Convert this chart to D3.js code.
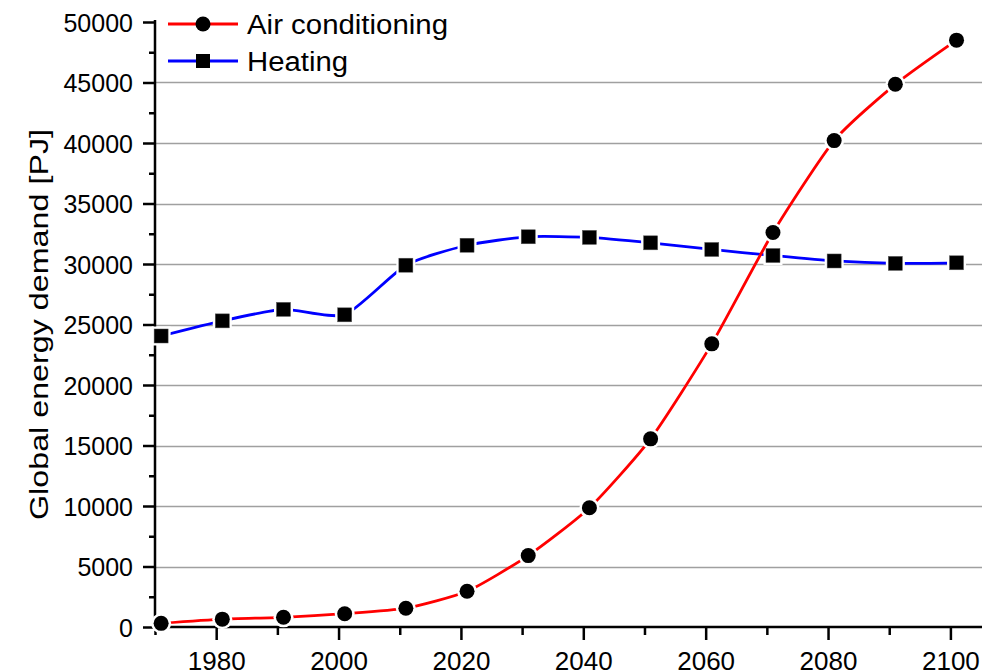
<!DOCTYPE html>
<html>
<head>
<meta charset="utf-8">
<script src="https://cdn.jsdelivr.net/npm/d3@7"></script>
<style>
  body { margin: 0; background: #fff; }
  text { font-family: "Liberation Sans", Arial, sans-serif; fill: #000; }
</style>
</head>
<body>
<svg id="chart" width="987" height="672"></svg>
<script>
// data
var years = [1971, 1981, 1991, 2001, 2011, 2021, 2031, 2041, 2051, 2061, 2071, 2081, 2091, 2101];
var airCond = [300, 650, 800, 1100, 1550, 2950, 5900, 9850, 15550, 23400, 32600, 40200, 44850, 48500];
var heating = [24050, 25300, 26250, 25800, 29900, 31550, 32250, 32200, 31750, 31200, 30700, 30250, 30050, 30100];
var yTicks = [0, 5000, 10000, 15000, 20000, 25000, 30000, 35000, 40000, 45000, 50000];
var xTicks = [1980, 2000, 2020, 2040, 2060, 2080, 2100];

var svg = d3.select("#chart");

// plot box (note: "top" is reserved on window, so use plotTop)
var plotLeft = 155, plotRight = 981, plotTop = 22, plotBottom = 627;

var x = d3.scaleLinear().domain([1970, 2105]).range([plotLeft, plotRight]);
var y = d3.scaleLinear().domain([0, 50000]).range([plotBottom, plotTop]);

//grid lines (not at 0 and 50000)
svg.append("g")
	.selectAll("line")
	.data(yTicks.filter(function (d) { return d > 0 && d < 50000; }))
	.enter()
	.append("line")
	.attr("x1", plotLeft)
	.attr("x2", plotRight + 1)
	.attr("y1", function (d) { return Math.round(y(d)) + 0.5; })
	.attr("y2", function (d) { return Math.round(y(d)) + 0.5; })
	.attr("stroke", "#a0a0a0")
	.attr("stroke-width", 1.5);

//minor ticks
var yMinor = d3.range(2500, 50000, 5000);
var xMinor = d3.range(1970, 2105, 20);

var yMinorAxis = svg.append("g")
	.attr("transform", "translate(" + plotLeft + ",0)")
	.call(d3.axisLeft(y).tickValues(yMinor).tickSize(6).tickFormat(""));
var xMinorAxis = svg.append("g")
	.attr("transform", "translate(0," + plotBottom + ")")
	.call(d3.axisBottom(x).tickValues(xMinor).tickSize(8).tickFormat(""));

//major axes
var yAxis = svg.append("g")
	.attr("transform", "translate(" + plotLeft + ",0)")
	.call(d3.axisLeft(y).tickValues(yTicks).tickSize(12).tickPadding(10).tickFormat(d3.format("d")));
var xAxis = svg.append("g")
	.attr("transform", "translate(0," + plotBottom + ")")
	.call(d3.axisBottom(x).tickValues(xTicks).tickSize(13).tickPadding(12).tickFormat(d3.format("d")));

[yMinorAxis, xMinorAxis, yAxis, xAxis].forEach(function (a) {
	a.select(".domain").remove();
	a.selectAll(".tick line").attr("stroke", "#000").attr("stroke-width", 2.5);
	a.attr("font-family", null).attr("font-size", null);
});
yAxis.selectAll("text").attr("font-size", 25).attr("fill", "#000").attr("dy", "0.36em");
xAxis.selectAll("text").attr("font-size", 26).attr("fill", "#000");

//axis lines
svg.append("line")
	.attr("x1", plotLeft).attr("x2", plotLeft)
	.attr("y1", plotTop - 2).attr("y2", plotBottom + 1)
	.attr("stroke", "#000").attr("stroke-width", 2.5);
svg.append("line")
	.attr("x1", plotLeft - 1).attr("x2", plotRight + 1)
	.attr("y1", plotBottom).attr("y2", plotBottom)
	.attr("stroke", "#000").attr("stroke-width", 2.5);

//y label
svg.append("text")
	.attr("transform", "translate(48," + (129 + 391 / 2) + ") rotate(-90)")
	.attr("text-anchor", "middle")
	.attr("font-size", 26)
	.attr("textLength", 391)
	.attr("lengthAdjust", "spacingAndGlyphs")
	.text("Global energy demand [PJ]");

var line = d3.line()
	.x(function (d) { return x(d.year); })
	.y(function (d) { return y(d.value); })
	.curve(d3.curveCardinal.tension(0.4));

var series = [
	{name: "Air conditioning", color: "#ff0000", shape: "circle", values: airCond},
	{name: "Heating", color: "#0000ff", shape: "square", values: heating}
];

function drawMarker(g, shape, cx, cy) {
	if (shape == "circle") {
		g.append("circle").attr("cx", cx).attr("cy", cy).attr("r", 10).attr("fill", "#fff");
		g.append("circle").attr("cx", cx).attr("cy", cy).attr("r", 7.5).attr("fill", "#000");
	} else {
		g.append("rect").attr("x", cx - 9.5).attr("y", cy - 9.5).attr("width", 19).attr("height", 19).attr("fill", "#fff");
		g.append("rect").attr("x", cx - 7).attr("y", cy - 7).attr("width", 14).attr("height", 14)
			.attr("fill", "#000").attr("stroke", "#555").attr("stroke-width", 0.5);
	}
}

// heating first, air conditioning on top
series.slice().reverse().forEach(function (s) {
	var pts = years.map(function (yr, i) { return {year: yr, value: s.values[i]}; });
	var g = svg.append("g");
	g.append("path")
		.datum(pts)
		.attr("d", line)
		.attr("fill", "none")
		.attr("stroke", s.color)
		.attr("stroke-width", 2.8);
	pts.forEach(function (p) {
		drawMarker(g, s.shape, x(p.year), y(p.value));
	});
});

//legend
var legendY = [24, 61];
series.forEach(function (s, i) {
	var g = svg.append("g");
	g.append("line")
		.attr("x1", 168).attr("x2", 238)
		.attr("y1", legendY[i]).attr("y2", legendY[i])
		.attr("stroke", s.color).attr("stroke-width", 3);
	if (s.shape == "circle") {
		g.append("circle").attr("cx", 203).attr("cy", legendY[i]).attr("r", 7.5).attr("fill", "#000");
	} else {
		g.append("rect").attr("x", 196).attr("y", legendY[i] - 7).attr("width", 14).attr("height", 14).attr("fill", "#000");
	}
	g.append("text")
		.attr("x", 247)
		.attr("y", legendY[i])
		.attr("dy", "0.36em")
		.attr("font-size", 27)
		.attr("textLength", i == 0 ? 201 : 101)
		.attr("lengthAdjust", "spacingAndGlyphs")
		.text(s.name);
});
</script>
</body>
</html>
